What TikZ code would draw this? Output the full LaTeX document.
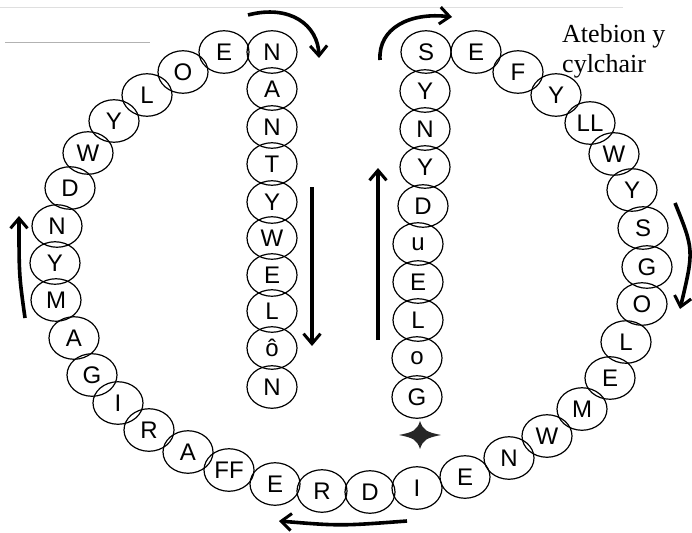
\documentclass[tikz,border=0pt]{standalone}
\usepackage{fontspec}
\setmainfont{Liberation Serif}
\newfontfamily\letterfont{Liberation Sans}
\usetikzlibrary{shapes.geometric,arrows.meta}
\tikzset{
  lett/.style={draw, ellipse, line width=1.2pt, minimum width=50pt, minimum height=42.5pt,
    inner sep=0pt, font=\letterfont\fontsize{24}{24}\selectfont},
  bigarrow/.style={line width=3.6pt, -{Straight Barb[length=10pt,width=17pt,line width=3pt]}},
  caption/.style={anchor=base west, inner sep=0pt, font=\fontsize{26}{30}\selectfont}
}
\begin{document}
\begin{tikzpicture}[x=1pt,y=-1pt]
\useasboundingbox (0,0) rectangle (692,532);
% faint scan lines
\draw[gray!60, line width=1pt] (5,43) -- (150,43);
\draw[gray!25, line width=0.6pt] (0,7) -- (623,7);
% left column
\node[lett] (l1) at (272,52) {N};
\node[lett] (l2) at (272,89) {A};
\node[lett] (l3) at (272,127) {N};
\node[lett] (l4) at (272,164) {T};
\node[lett] (l5) at (272,202) {Y};
\node[lett] (l6) at (272,238) {W};
\node[lett] (l7) at (272,275) {E};
\node[lett] (l8) at (272,311) {L};
\node[lett] (l9) at (272,348) {ô};
\node[lett] (l10) at (272,387) {N};
% right column
\node[lett] (r1) at (426,52) {S};
\node[lett] (r2) at (425,91) {Y};
\node[lett] (r3) at (425,129) {N};
\node[lett] (r4) at (425,167) {Y};
\node[lett] (r5) at (423,206) {D};
\node[lett] (r6) at (418,244) {u};
\node[lett] (r7) at (418,282) {E};
\node[lett] (r8) at (418,320) {L};
\node[lett] (r9) at (417,358) {o};
\node[lett] (r10) at (417,397) {G};
% outer ring
\node[lett] (o1) at (476,52) {E};
\node[lett] (o2) at (518,72) {F};
\node[lett] (o3) at (556,95) {Y};
\node[lett] (o4) at (590,123) {LL};
\node[lett] (o5) at (614,154) {W};
\node[lett] (o6) at (632,190) {Y};
\node[lett] (o7) at (643,228) {S};
\node[lett] (o8) at (647,267) {G};
\node[lett] (o9) at (642,304) {O};
\node[lett] (o10) at (626,342) {L};
\node[lett] (o11) at (610,378) {E};
\node[lett] (o12) at (582,409) {M};
\node[lett] (o13) at (547,436) {W};
\node[lett] (o14) at (509,458) {N};
\node[lett] (o15) at (465,477) {E};
\node[lett] (o16) at (417,488) {I};
\node[lett] (o17) at (370,492) {D};
\node[lett] (o18) at (322,491) {R};
\node[lett] (o19) at (275,484) {E};
\node[lett] (o20) at (229,470) {FF};
\node[lett] (o21) at (188,452) {A};
\node[lett] (o22) at (149,430) {R};
\node[lett] (o23) at (118,403) {I};
\node[lett] (o24) at (92,375) {G};
\node[lett] (o25) at (74,338) {A};
\node[lett] (o26) at (56,300) {M};
\node[lett] (o27) at (55,263) {Y};
\node[lett] (o28) at (57,226) {N};
\node[lett] (o29) at (70,188) {D};
\node[lett] (o30) at (88,153) {W};
\node[lett] (o31) at (114,121) {Y};
\node[lett] (o32) at (147,95) {L};
\node[lett] (o33) at (183,72) {O};
\node[lett] (o34) at (224,52) {E};
% star
\fill[black!85] (399,435) .. controls (414,432) and (417,430) .. (420,421)
  .. controls (423,430) and (426,432) .. (441,435)
  .. controls (426,438) and (423,440) .. (420,449)
  .. controls (417,440) and (414,438) .. (399,435) -- cycle;
% arrows
\coordinate (a1s) at (248,15); \coordinate (a1e) at (319,58);
\draw[bigarrow] (a1s) .. controls (290,4) and (318,25) .. (a1e);
\coordinate (a2s) at (380,60); \coordinate (a2e) at (452,17);
\draw[bigarrow] (a2s) .. controls (378,28) and (410,12) .. (a2e);
\coordinate (a3s) at (312,187); \coordinate (a3e) at (312,346);
\draw[bigarrow] (a3s) -- (a3e);
\coordinate (a4s) at (378,340); \coordinate (a4e) at (378,168);
\draw[bigarrow] (a4s) -- (a4e);
\coordinate (a5s) at (25,318); \coordinate (a5e) at (19,216);
\draw[bigarrow] (a5s) .. controls (19,275) .. (a5e);
\coordinate (a6s) at (675,203); \coordinate (a6e) at (680,309);
\draw[bigarrow] (a6s) .. controls (694,250) .. (a6e);
\coordinate (a7s) at (407,521); \coordinate (a7e) at (279,521);
\draw[bigarrow] (a7s) .. controls (340,526) .. (a7e);
% caption
\node[caption] (t1) at (562,43) {Atebion y};
\node[caption] (t2) at (562,73) {cylchair};
\end{tikzpicture}
\end{document}
